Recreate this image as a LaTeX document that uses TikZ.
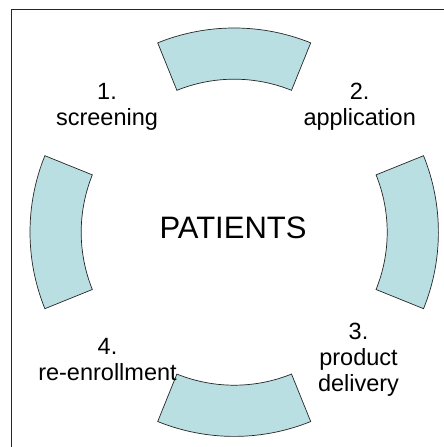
\documentclass[tikz,border=0pt]{standalone}
\usepackage{fontspec}
\setmainfont{Liberation Sans}
\definecolor{segfill}{RGB}{185,223,227}
\tikzset{
  segment/.style={draw=black!85, line width=0.7pt, fill=segfill, line join=miter},
  label/.style={align=center, inner sep=0pt, font=\fontsize{23.5}{26}\selectfont},
  frame/.style={draw=black!85, line width=1pt},
}
\begin{document}
\begin{tikzpicture}[x=1pt,y=1pt]
  \useasboundingbox (0,0) rectangle (444,447);
  \fill[white] (0,0) rectangle (444,447);
  % open frame: left and top edges
  \coordinate (fbl) at (11,0);
  \coordinate (ftl) at (11,437.7);
  \coordinate (ftr) at (444,437.7);
  \draw[frame] (fbl) -- (ftl) -- (ftr);
  % centre of the ring
  \coordinate (c) at (234.2,214.8);
  % four ring segments, each spanning 44 degrees
  \foreach \a in {90,0,270,180}{
    \draw[segment]
      ([shift={(\a-22:204.2)}]c) arc[start angle=\a-22, end angle=\a+22, radius=204.2]
      -- ([shift={(\a+22:153)}]c) arc[start angle=\a+22, end angle=\a-22, radius=153]
      -- cycle;
  }
  \node[font=\fontsize{31}{36}\selectfont, inner sep=0pt] (patients) at (233,219.5) {PATIENTS};
  \node[label] (screening) at (107,340) {1.\\screening};
  \node[label] (application) at (359.7,340) {2.\\application};
  \node[label] (delivery) at (358.5,87) {3.\\product\\delivery};
  \node[label] (reenroll) at (107.5,87.4) {4.\\re-enrollment};
\end{tikzpicture}
\end{document}
